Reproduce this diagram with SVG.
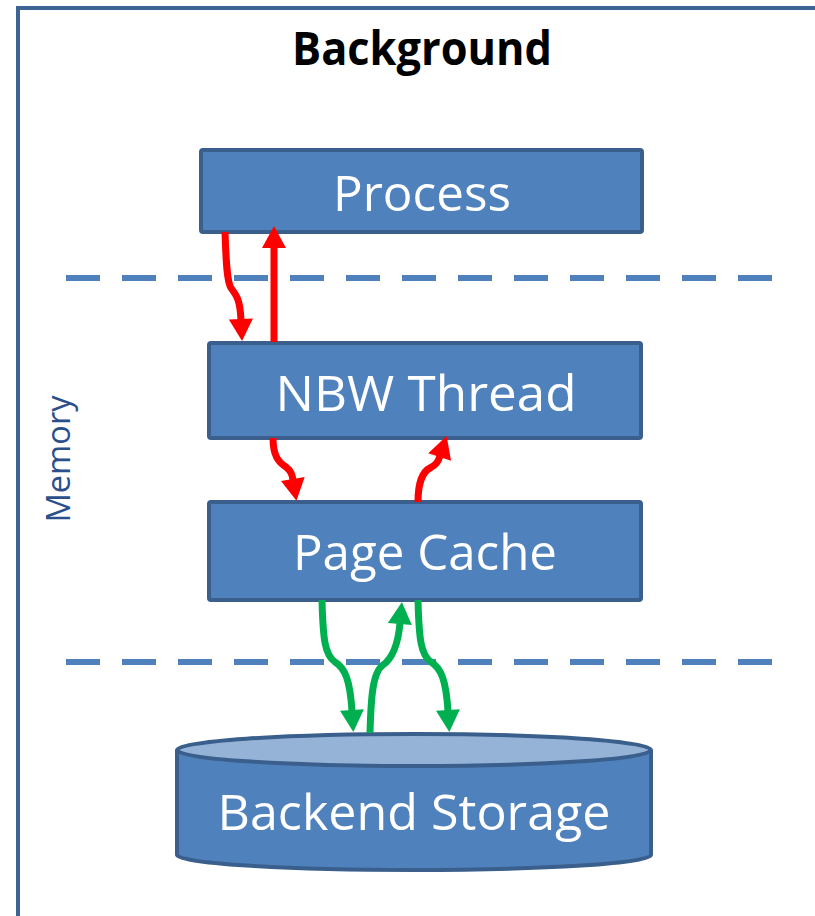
<svg xmlns="http://www.w3.org/2000/svg" width="815" height="916" viewBox="0 0 815 916">
<style>
.box{fill:#4f81bd;stroke:#3a5f8d;stroke-width:4}
.lbl{font-family:"Open Sans","Noto Sans",sans-serif;fill:#ffffff;font-size:50px;text-anchor:middle}
.dash{stroke:#4f81bd;stroke-width:6;stroke-dasharray:34 22;fill:none}
.red{fill:none;stroke:#ff0000;stroke-width:7}
.green{fill:none;stroke:#00b050;stroke-width:7}
</style>
<defs>
<marker id="hr" markerUnits="userSpaceOnUse" markerWidth="24" markerHeight="24" viewBox="0 0 22 24" refX="1" refY="12" orient="auto">
<path d="M0,0 L22,12 L0,24 z" fill="#ff0000"/>
</marker>
<marker id="hg" markerUnits="userSpaceOnUse" markerWidth="24" markerHeight="24" viewBox="0 0 22 24" refX="1" refY="12" orient="auto">
<path d="M0,0 L22,12 L0,24 z" fill="#00b050"/>
</marker>
</defs>
<rect x="0" y="0" width="815" height="916" fill="#ffffff"/>
<rect x="18" y="8" width="900" height="1000" fill="none" stroke="#3d6494" stroke-width="4"/>
<text x="422" y="65" font-family="'Open Sans','Noto Sans',sans-serif" font-weight="bold" font-size="46" text-anchor="middle" textLength="260" lengthAdjust="spacingAndGlyphs" fill="#000000">Background</text>
<text transform="translate(70,459) rotate(-90)" x="0" y="0" font-family="'Open Sans','Noto Sans',sans-serif" font-size="32" text-anchor="middle" textLength="127" lengthAdjust="spacingAndGlyphs" fill="#2a4f8a">Memory</text>
<g id="separators">
<line class="dash" x1="66" y1="278" x2="772" y2="278"/>
<line class="dash" x1="66" y1="662" x2="772" y2="662"/>
</g>
<g id="process">
<rect class="box" x="201" y="150" width="441" height="82" rx="2"/>
<text class="lbl" x="422" y="211" textLength="178" lengthAdjust="spacingAndGlyphs">Process</text>
</g>
<g id="nbw-thread">
<rect class="box" x="209" y="343" width="432" height="95" rx="2"/>
<text class="lbl" x="426" y="411" textLength="301" lengthAdjust="spacingAndGlyphs">NBW Thread</text>
</g>
<g id="page-cache">
<rect class="box" x="209" y="502" width="432" height="98" rx="2"/>
<text class="lbl" x="425" y="570" textLength="264" lengthAdjust="spacingAndGlyphs">Page Cache</text>
</g>
<g id="backend-storage">
<path d="M177,750 L177,855 A237,15 0 0 0 651,855 L651,750" fill="#4f81bd" stroke="#3a5f8d" stroke-width="4"/>
<ellipse cx="414" cy="750" rx="237" ry="16" fill="#95b3d7" stroke="#3a5f8d" stroke-width="4"/>
<text class="lbl" x="414" y="830" textLength="393" lengthAdjust="spacingAndGlyphs">Backend Storage</text>
</g>
<g id="connectors">
<path class="red" marker-end="url(#hr)" d="M225,232 C226,262 227,282 231,288 C237,296 240,300 241,320"/>
<path class="red" marker-end="url(#hr)" d="M274,342 L274,247"/>
<path class="red" marker-end="url(#hr)" d="M273,438 C273,455 278,462 286,467 C291,471 292,474 293,480"/>
<path class="red" marker-end="url(#hr)" d="M418,502 C418,485 422,472 430,468 C436,465 438,462 440,456"/>
<path class="green" marker-end="url(#hg)" d="M322,600 C323,640 325,655 335,662 C345,668 350,680 352,711"/>
<path class="green" marker-end="url(#hg)" d="M370,733 C371,695 373,672 383,665 C393,658 398,645 400,623"/>
<path class="green" marker-end="url(#hg)" d="M418,600 C419,640 421,655 431,662 C441,668 446,680 448,711"/>
</g>
</svg>
